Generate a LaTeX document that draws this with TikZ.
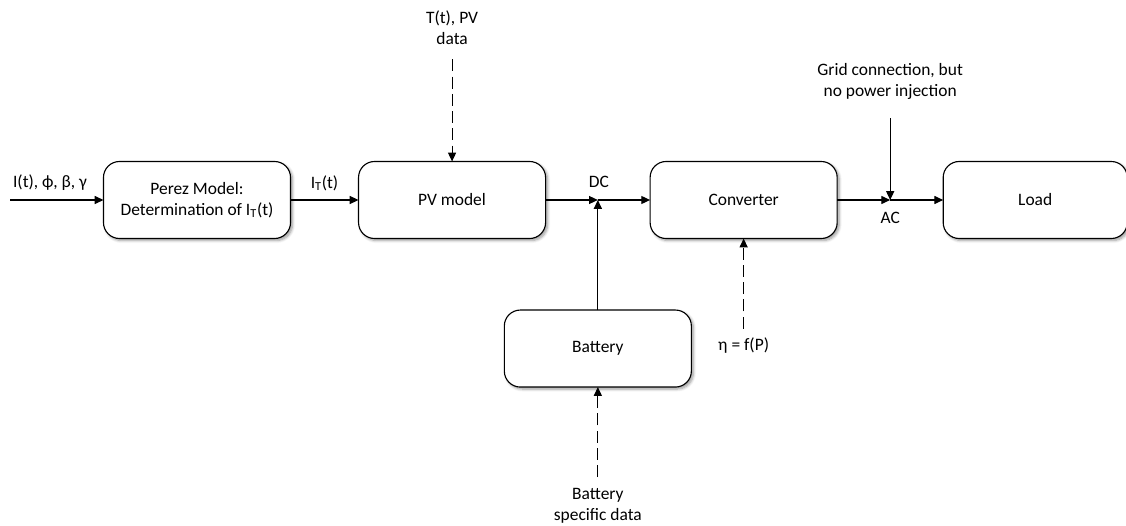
\documentclass[tikz,border=0pt]{standalone}
\usepackage{fontspec}
\setmainfont{Carlito}
\usepackage{tikz}
\usetikzlibrary{positioning,arrows.meta,calc,shadows.blur}

\begin{document}
\begin{tikzpicture}[
    x=0.025cm, y=-0.025cm,
    node distance=1.7cm,
    >={Triangle[length=2.2mm, width=2mm]},
    box/.style={draw, line width=0.8pt, outer sep=0pt, rounded corners=4mm, fill=white, minimum width=4.675cm, minimum height=1.925cm, align=center,
      blur shadow={shadow xshift=0.5mm, shadow yshift=-0.5mm, shadow blur steps=6, shadow opacity=40}},
    lbl/.style={align=center, inner sep=1pt},
    dashedline/.style={->, line width=0.8pt, dash pattern=on 3mm off 1.3mm},
    every node/.style={font=\fontsize{12.4}{15}\selectfont}
  ]
    \useasboundingbox (0,0) rectangle (1126,526);
    % Top row
    \node[box] (perez) at (197,200) {Perez Model:\\Determination of I\textsubscript{T}(t)};
    \node[box, right=1.7cm of perez] (pv) {PV model};
    \node[box, right=2.6125cm of pv] (conv) {Converter};
    \node[box, right=2.65cm of conv, minimum width=4.6cm] (load) {Load};
    % Junctions
    \coordinate (dc) at ($(pv.east)!0.5!(conv.west)$);
    \coordinate (ac) at ($(conv.east)!0.5!(load.west)$);
    % Battery
    \node[box, below=2.75cm of dc] (batt) {Battery};
    % Inputs and labels
    \coordinate (irr) at (10,200);
    \node[lbl] (irrlbl) at (50,183) {I(t), ϕ, β, γ};
    \node[lbl] (itlbl) at ($(perez.east)!0.5!(pv.west)+(0,-17)$) {I\textsubscript{T}(t)};
    \node[lbl] (dclbl) at ($(dc)+(1,-18)$) {DC};
    \node[lbl] (aclbl) at ($(ac)+(0,18)$) {AC};
    \node[lbl] (pvdata) at ($(pv.north)+(0,-134)$) {T(t), PV\\data};
    \coordinate (pvin) at ($(pv.north)+(0,-102)$);
    \node[lbl] (grid) at ($(ac)+(0,-119)$) {Grid connection, but\\no power injection};
    \coordinate (gridin) at ($(ac)+(0,-82)$);
    \node[lbl] (eta) at ($(conv.south)+(0,107)$) {η = f(P)};
    \coordinate (etain) at ($(conv.south)+(0,90)$);
    \node[lbl] (battdata) at ($(batt.south)+(0,119)$) {Battery\\specific data};
    \coordinate (battin) at ($(batt.south)+(0,90)$);
    % Arrows
    \draw[->, line width=0.8pt] (irr) -- (perez);
    \draw[->, line width=0.8pt] (perez) -- (pv);
    \draw[->, line width=0.8pt] (pv) -- (dc);
    \draw[->, line width=0.8pt] (dc) -- (conv);
    \draw[->, line width=0.8pt] (batt) -- (dc);
    \draw[->, line width=0.8pt] (conv) -- (ac);
    \draw[->, line width=0.8pt] (ac) -- (load);
    \draw[->, line width=0.8pt] (gridin) -- (ac);
    \draw[dashedline] (pvin) -- (pv);
    \draw[dashedline] (etain) -- (conv);
    \draw[dashedline] (battin) -- (batt);
\end{tikzpicture}
\end{document}
